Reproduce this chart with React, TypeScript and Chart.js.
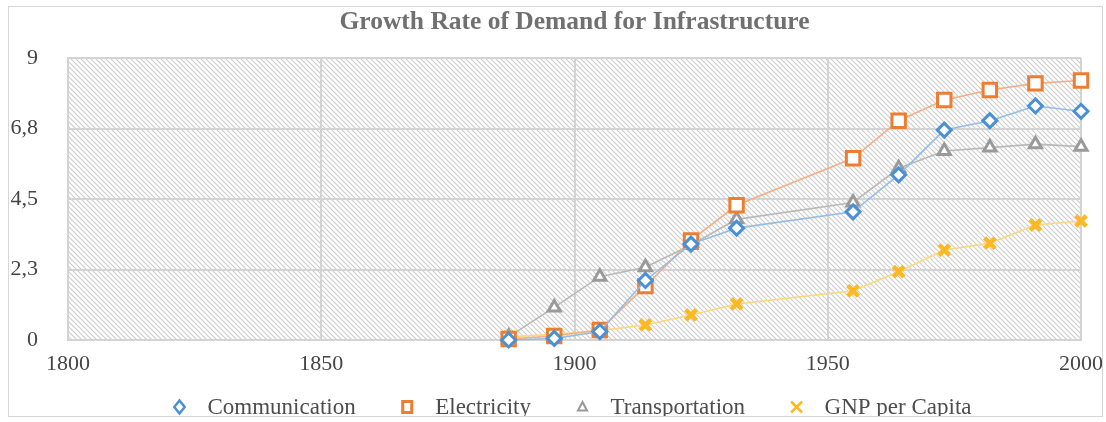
import React, { useEffect, useRef } from "react";
import { Chart, registerables } from "chart.js";

Chart.register(...registerables);

const chartTitle = "Growth Rate of Demand for Infrastructure";
const years = [1887, 1896, 1905, 1914, 1923, 1932, 1955, 1964, 1973, 1982, 1991, 2000];
const communication = [0.0, 0.05, 0.27, 1.9, 3.06, 3.57, 4.09, 5.27, 6.7, 7.0, 7.47, 7.3];
const electricity = [0.03, 0.13, 0.32, 1.72, 3.18, 4.3, 5.8, 7.0, 7.66, 7.98, 8.19, 8.28];
const transportation = [0.1, 1.04, 2.02, 2.32, 3.03, 3.85, 4.39, 5.48, 6.03, 6.14, 6.25, 6.17];
const gnpPerCapita = [0.1, 0.18, 0.3, 0.48, 0.8, 1.15, 1.57, 2.18, 2.87, 3.09, 3.67, 3.8];
const seriesNames = ["Communication", "Electricity", "Transportation", "GNP per Capita"];
const yTickLabels = ["0", "2,3", "4,5", "6,8", "9"];
const xMin = 1800;
const xMax = 2000;
const xStep = 50;
const yMin = 0;
const yMax = 9;
const yStep = 2.25;

const FONT = '"Liberation Serif", "Times New Roman", serif';

const styles = [
  { marker: "#4a90d6", line: "#94bde6", style: "rectRot", radius: 7, bw: 3, fill: "#ffffff" },
  { marker: "#ed7d31", line: "#f4ae86", style: "rect", radius: 9.5, bw: 3, fill: "#ffffff" },
  { marker: "#9a9a9a", line: "#b9b9b9", style: "triangle", radius: 7, bw: 3, fill: "#ffffff" },
  { marker: "#fdb924", line: "#fdd77a", style: "crossRot", radius: 7.5, bw: 4.5, fill: "#ffffff" },
];

function makeHatch(): CanvasPattern | string {
  const s = 5;
  const c = document.createElement("canvas");
  c.width = s;
  c.height = s;
  const g = c.getContext("2d");
  if (!g) return "#eeeeee";
  g.fillStyle = "#ffffff";
  g.fillRect(0, 0, s, s);
  g.strokeStyle = "#cdcdcd";
  g.lineWidth = 1.15;
  g.beginPath();
  g.moveTo(-1, -1);
  g.lineTo(s + 1, s + 1);
  g.moveTo(-1, s - 1);
  g.lineTo(1, s + 1);
  g.moveTo(s - 1, -1);
  g.lineTo(s + 1, 1);
  g.stroke();
  const p = g.createPattern(c, "repeat");
  return p || "#eeeeee";
}

const hatchPlugin = {
  id: "hatchBg",
  beforeDraw(chart: any) {
    const { ctx, chartArea } = chart;
    ctx.save();
    ctx.fillStyle = makeHatch();
    ctx.fillRect(chartArea.left, chartArea.top, chartArea.right - chartArea.left, chartArea.bottom - chartArea.top);
    ctx.restore();
  },
};

const titlePlugin = {
  id: "customTitle",
  afterDraw(chart: any) {
    const { ctx, chartArea } = chart;
    ctx.save();
    ctx.font = `bold 25.5px ${FONT}`;
    ctx.fillStyle = "#707070";
    ctx.textAlign = "center";
    ctx.textBaseline = "alphabetic";
    ctx.fillText(chartTitle, (chartArea.left + chartArea.right) / 2, 21.5);
    ctx.restore();
  },
};

function drawMarker(ctx: CanvasRenderingContext2D, kind: string, x: number, y: number, color: string) {
  ctx.save();
  ctx.strokeStyle = color;
  ctx.fillStyle = "#ffffff";
  ctx.beginPath();
  if (kind === "rectRot") {
    ctx.lineWidth = 2.5;
    const r = 6.5;
    ctx.moveTo(x, y - r);
    ctx.lineTo(x + r * 0.8, y);
    ctx.lineTo(x, y + r);
    ctx.lineTo(x - r * 0.8, y);
    ctx.closePath();
    ctx.fill();
    ctx.stroke();
  } else if (kind === "rect") {
    ctx.lineWidth = 3;
    ctx.rect(x - 4.5, y - 5.5, 9, 11);
    ctx.fill();
    ctx.stroke();
  } else if (kind === "triangle") {
    ctx.lineWidth = 2;
    ctx.moveTo(x, y - 5);
    ctx.lineTo(x + 4.5, y + 3.5);
    ctx.lineTo(x - 4.5, y + 3.5);
    ctx.closePath();
    ctx.fill();
    ctx.stroke();
  } else {
    ctx.lineWidth = 2.5;
    const r = 5.5;
    ctx.moveTo(x - r, y - r);
    ctx.lineTo(x + r, y + r);
    ctx.moveTo(x + r, y - r);
    ctx.lineTo(x - r, y + r);
    ctx.stroke();
  }
  ctx.restore();
}

const legendPlugin = {
  id: "customLegend",
  afterDraw(chart: any) {
    const { ctx, chartArea } = chart;
    ctx.save();
    ctx.font = `23px ${FONT}`;
    const markerToText = 28;
    const textToText = 79.5;
    const widths = seriesNames.map((n) => ctx.measureText(n).width);
    let span = 7 + markerToText;
    widths.forEach((w, i) => {
      span += w + (i < widths.length - 1 ? textToText : 0);
    });
    const cx = (chartArea.left + chartArea.right) / 2 - 2.5;
    let textX = cx - span / 2 + 7 + markerToText;
    const y = 400;
    seriesNames.forEach((name, i) => {
      drawMarker(ctx, styles[i].style, textX - markerToText, y, styles[i].marker);
      ctx.fillStyle = "#4d4d4d";
      ctx.textAlign = "left";
      ctx.textBaseline = "middle";
      ctx.fillText(name, textX, y + 1);
      textX += widths[i] + textToText;
    });
    ctx.restore();
  },
};

export default function App() {
  const ref = useRef<HTMLCanvasElement | null>(null);
  useEffect(() => {
    if (!ref.current) return;
    const seriesData = [communication, electricity, transportation, gnpPerCapita];
    const chart = new Chart(ref.current, {
      type: "line",
      data: {
        datasets: seriesData.map((arr, i) => ({
          label: seriesNames[i],
          data: years.map((yr, j) => ({ x: yr, y: arr[j] })),
          borderColor: styles[i].line,
          backgroundColor: styles[i].line,
          borderWidth: 1.6,
          pointStyle: styles[i].style as any,
          pointRadius: styles[i].radius,
          pointHoverRadius: styles[i].radius,
          pointBorderColor: styles[i].marker,
          pointBackgroundColor: styles[i].fill,
          pointBorderWidth: styles[i].bw,
          tension: 0,
          clip: false as any,
        })),
      },
      options: {
        responsive: false,
        animation: false,
        devicePixelRatio: 1,
        layout: { padding: { top: 51, right: 21, left: 0, bottom: 36 } },
        plugins: {
          legend: { display: false },
          title: { display: false },
          tooltip: { enabled: false },
        },
        scales: {
          x: {
            type: "linear",
            min: xMin,
            max: xMax,
            afterFit: (s: any) => {
              s.height = 40;
              s.paddingLeft = 0;
              s.paddingRight = 0;
            },
            ticks: {
              stepSize: xStep,
              padding: 11,
              maxRotation: 0,
              color: "#454545",
              font: { family: FONT, size: 22 },
              callback: (v: any) => String(v),
            },
            grid: { color: "#d3d3d3", lineWidth: 2, drawTicks: false },
            border: { display: true, color: "#d3d3d3", width: 2 },
          },
          y: {
            type: "linear",
            min: yMin,
            max: yMax,
            afterFit: (s: any) => {
              s.width = 59;
              s.paddingTop = 0;
              s.paddingBottom = 0;
            },
            ticks: {
              stepSize: yStep,
              padding: 30,
              color: "#454545",
              font: { family: FONT, size: 22 },
              callback: (_v: any, i: number) => yTickLabels[i],
            },
            grid: { color: "#d3d3d3", lineWidth: 2, drawTicks: false },
            border: { display: true, color: "#d3d3d3", width: 2 },
          },
        },
      },
      plugins: [hatchPlugin, titlePlugin, legendPlugin],
    } as any);
    return () => chart.destroy();
  }, []);

  return (
    <div
      style={{
        position: "absolute",
        left: 8,
        top: 6,
        width: 1095,
        height: 411,
        border: "1px solid #d6d6d6",
        boxSizing: "border-box",
        background: "#ffffff",
      }}
    >
      <canvas ref={ref} width={1093} height={409} style={{ display: "block", width: 1093, height: 409 }} />
    </div>
  );
}
